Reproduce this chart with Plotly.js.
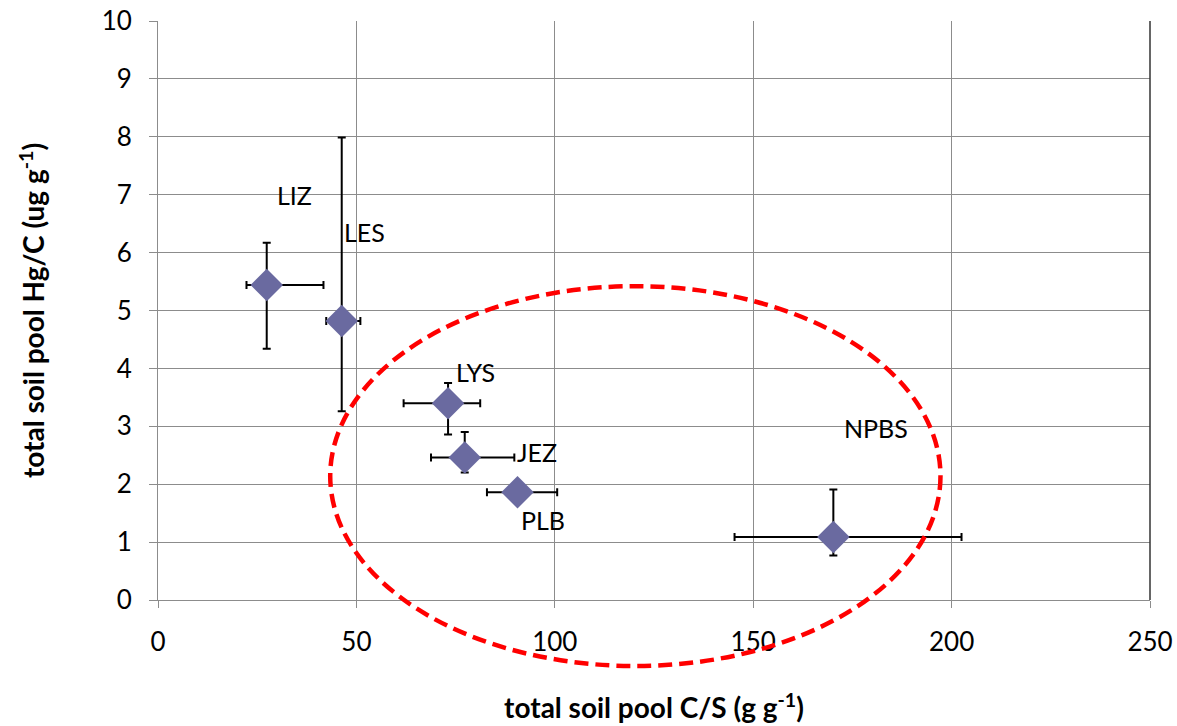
<!DOCTYPE html>
<html>
<head>
<meta charset="utf-8">
<script src="https://cdn.plot.ly/plotly-3.0.1.min.js"></script>
<style>html,body{margin:0;padding:0;background:#fff;}#chart{width:1177px;height:726px;}</style>
</head>
<body>
<div id="chart"></div>
<script>
// Sites
const sites = ["LIZ", "LES", "LYS", "JEZ", "PLB", "NPBS"];
// total soil pool C/S (g g-1)
const csRatio = [27.4, 46.3, 73.1, 77.3, 90.6, 170.2];
const csErrPlus = [14.3, 4.7, 8.1, 12.5, 10.0, 32.3];
const csErrMinus = [5.1, 3.9, 11.2, 8.5, 7.7, 24.9];
// total soil pool Hg/C (ug g-1)
const hgcRatio = [5.44, 4.82, 3.40, 2.46, 1.86, 1.09];
const hgcErrPlus = [0.73, 3.17, 0.35, 0.44, 0.0, 0.82];
const hgcErrMinus = [1.10, 1.56, 0.54, 0.26, 0.0, 0.32];
// label positions (data units)
const labelX = [34.3, 52.0, 80.0, 95.4, 97.0, 181.0];
const labelY = [7.0, 6.36, 3.94, 2.56, 1.38, 2.97];
// highlighted group ellipse (data units)
const ellipseX = [43.4, 197.2];
const ellipseY = [-1.14, 5.42];

const xRange = [0, 250];
const yRange = [0, 10];
const px = v => (v - xRange[0]) / (xRange[1] - xRange[0]);
const py = v => (v - yRange[0]) / (yRange[1] - yRange[0]);

const FONT = "Lato, 'Open Sans', sans-serif";

const trace = {
  type: "scatter",
  mode: "markers",
  x: csRatio,
  y: hgcRatio,
  text: sites,
  marker: {symbol: "diamond", size: 25, color: "#6a6aa0", line: {width: 0}},
  error_x: {type: "data", symmetric: false, array: csErrPlus, arrayminus: csErrMinus,
            color: "#000", thickness: 2, width: 4},
  error_y: {type: "data", symmetric: false, array: hgcErrPlus, arrayminus: hgcErrMinus,
            color: "#000", thickness: 2, width: 4},
  hoverinfo: "text+x+y",
  showlegend: false
};

const annotations = sites.map((s, i) => ({
  x: labelX[i], y: labelY[i], xref: "x", yref: "y", text: s, showarrow: false,
  font: {family: FONT, size: 25, color: "#000"}
}));

const layout = {
  width: 1177, height: 726,
  margin: {l: 158, r: 27, t: 21, b: 126},
  paper_bgcolor: "#fff", plot_bgcolor: "#fff",
  font: {family: FONT, color: "#000"},
  xaxis: {
    range: xRange, dtick: 50, tick0: 0,
    showgrid: true, gridcolor: "#8c8c8c", gridwidth: 1,
    showline: true, linecolor: "#8c8c8c", linewidth: 1,
    ticks: "outside", ticklen: 7, tickcolor: "#8c8c8c",
    ticklabelstandoff: 12,
    zeroline: false,
    tickfont: {family: FONT, size: 26, color: "#000"},
    title: {text: "<b>total soil pool C/S (g g<sup>-1</sup>)</b>", font: {family: FONT, size: 28, color: "#000"}, standoff: 42}
  },
  yaxis: {
    range: yRange, dtick: 1, tick0: 0,
    showgrid: true, gridcolor: "#8c8c8c", gridwidth: 1,
    showline: true, linecolor: "#8c8c8c", linewidth: 1,
    ticks: "outside", ticklen: 8, tickcolor: "#8c8c8c",
    ticklabelstandoff: 12,
    zeroline: false,
    tickfont: {family: FONT, size: 26, color: "#000"},
    title: {text: "<b>total soil pool Hg/C (ug g<sup>-1</sup>)</b>", font: {family: FONT, size: 28, color: "#000"}, standoff: 48}
  },
  shapes: [
    {type: "line", xref: "paper", yref: "paper", x0: 1, x1: 1, y0: 0, y1: 1,
     line: {color: "#333", width: 1.5}},
    {type: "circle", xref: "paper", yref: "paper",
     x0: px(ellipseX[0]), x1: px(ellipseX[1]), y0: py(ellipseY[0]), y1: py(ellipseY[1]),
     line: {color: "#ff0000", width: 4.5, dash: "14px,7px"}, layer: "above"}
  ],
  annotations: annotations
};

Plotly.newPlot("chart", [trace], layout, {displayModeBar: false, staticPlot: true});
</script>
</body>
</html>
